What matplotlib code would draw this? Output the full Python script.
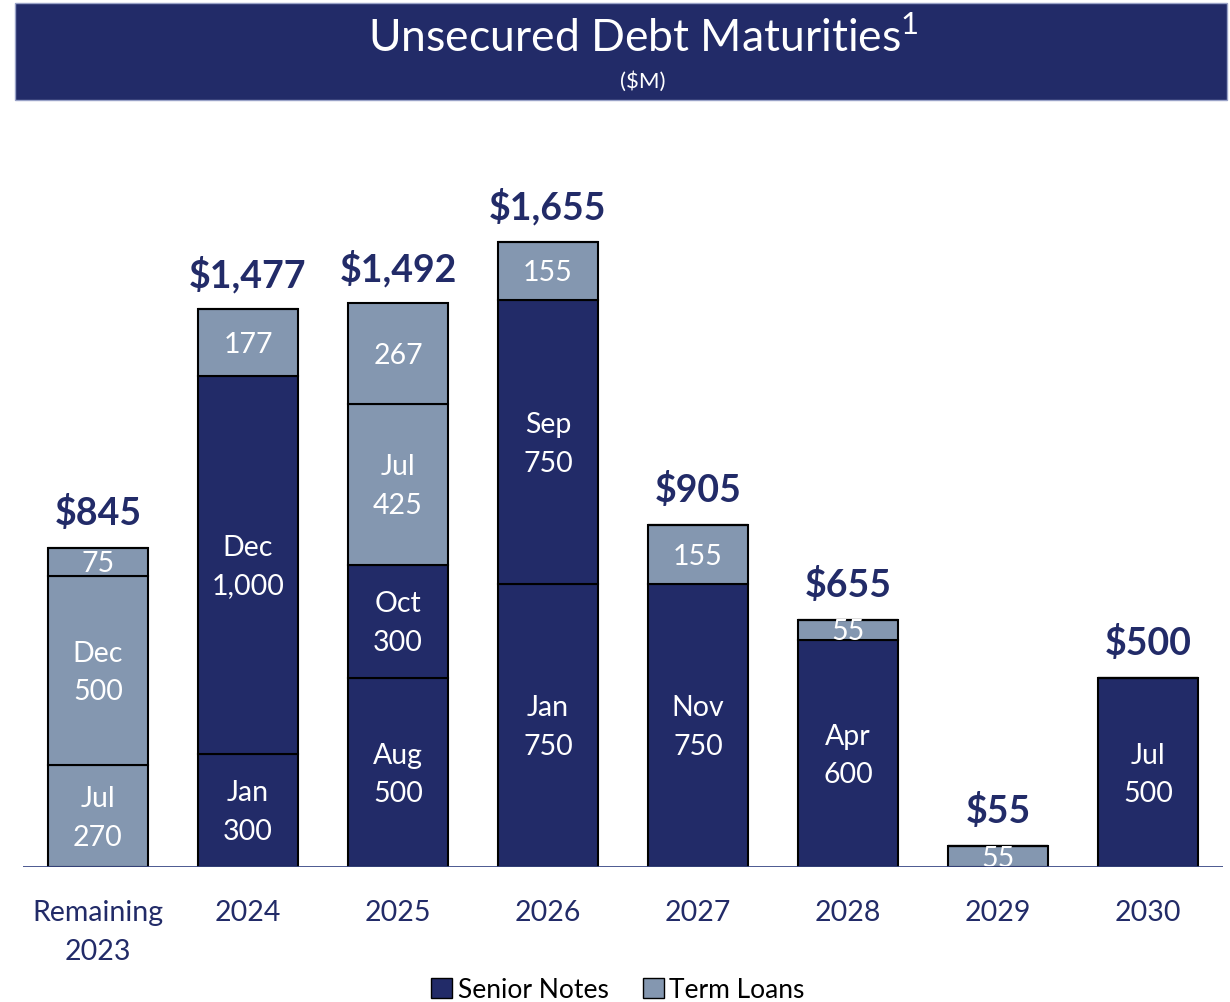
import matplotlib
matplotlib.use("Agg")
import matplotlib.pyplot as plt
from matplotlib.patches import Rectangle, Patch

plt.rcParams['font.family'] = ['Lato', 'DejaVu Sans']
plt.rcParams['mathtext.fontset'] = 'custom'
plt.rcParams['mathtext.rm'] = 'Lato'

NAVY = '#222B68'
LIGHT = '#8497B0'

# data
years = ['Remaining\n2023', '2024', '2025', '2026', '2027', '2028', '2029', '2030']
totals = [845, 1477, 1492, 1655, 905, 655, 55, 500]

# stacked layers, bottom to top ('S' = Senior Notes, 'T' = Term Loans)
layer1_vals = [270, 300, 500, 750, 750, 600, 55, 500]
layer1_kind = ['T', 'S', 'S', 'S', 'S', 'S', 'T', 'S']
layer1_month = ['Jul', 'Jan', 'Aug', 'Jan', 'Nov', 'Apr', '', 'Jul']

layer2_vals = [500, 1000, 300, 750, 155, 55, 0, 0]
layer2_kind = ['T', 'S', 'S', 'S', 'T', 'T', 'T', 'T']
layer2_month = ['Dec', 'Dec', 'Oct', 'Sep', '', '', '', '']

layer3_vals = [75, 177, 425, 155, 0, 0, 0, 0]
layer3_kind = ['T', 'T', 'T', 'T', 'T', 'T', 'T', 'T']
layer3_month = ['', '', 'Jul', '', '', '', '', '']

layer4_vals = [0, 0, 267, 0, 0, 0, 0, 0]
layer4_kind = ['T', 'T', 'T', 'T', 'T', 'T', 'T', 'T']
layer4_month = ['', '', '', '', '', '', '', '']

layers = [
    (layer1_vals, layer1_kind, layer1_month),
    (layer2_vals, layer2_kind, layer2_month),
    (layer3_vals, layer3_kind, layer3_month),
    (layer4_vals, layer4_kind, layer4_month),
]

fig = plt.figure(figsize=(12.3, 10.02), dpi=100)

# title band
fig.patches.append(Rectangle((15 / 1230, 1 - 100 / 1002), 1212 / 1230, 97 / 1002,
                             transform=fig.transFigure, facecolor=NAVY,
                             edgecolor='#9AA3C8', linewidth=1, zorder=0))
fig.text(643 / 1230, 1 - 38 / 1002, r'Unsecured Debt Maturities$^{\mathrm{1}}$',
         color='white', fontsize=32, ha='center', va='center')
fig.text(643 / 1230, 1 - 82 / 1002, '($M)', color='white', fontsize=16,
         ha='center', va='center')

ax = fig.add_axes([23 / 1230, 135 / 1002, 1200 / 1230, 717 / 1002])
x = list(range(len(years)))
bottoms = [0] * len(years)
for vals, kinds, months in layers:
    colors = [NAVY if k == 'S' else LIGHT for k in kinds]
    ax.bar(x, vals, bottom=bottoms, width=0.667, color=colors,
           edgecolor='black', linewidth=1.5, zorder=2)
    for i, v in enumerate(vals):
        if v == 0:
            continue
        label = f'{v:,}' if not months[i] else f'{months[i]}\n{v:,}'
        ax.text(i, bottoms[i] + v / 2 - 6, label, color='white', fontsize=20.5,
                ha='center', va='center', linespacing=1.6, zorder=3)
    bottoms = [b + v for b, v in zip(bottoms, vals)]

for i, t in enumerate(totals):
    ax.text(i, t + 92, f'${t:,}', color=NAVY, fontsize=27, fontweight='bold',
            ha='center', va='center')

ax.set_xlim(-0.5, 7.5)
ax.set_ylim(0, 1898)
ax.axhline(0, color='#3B4A86', linewidth=2, zorder=4)
for s in ax.spines.values():
    s.set_visible(False)
ax.set_yticks([])
ax.set_xticks(x)
ax.set_xticklabels(years, fontsize=20.5, color=NAVY, linespacing=1.6)
ax.tick_params(axis='x', length=0, pad=24)

handles = [Patch(facecolor=NAVY, edgecolor='black', label='Senior Notes'),
           Patch(facecolor=LIGHT, edgecolor='black', label='Term Loans')]
fig.legend(handles=handles, loc='center', bbox_to_anchor=(618 / 1230, 1 - 990 / 1002),
           ncol=2, frameon=False, fontsize=19, handlelength=0.8,
           handleheight=0.8, handletextpad=0.2, columnspacing=1.3)

fig.savefig('out.png', dpi=100)
